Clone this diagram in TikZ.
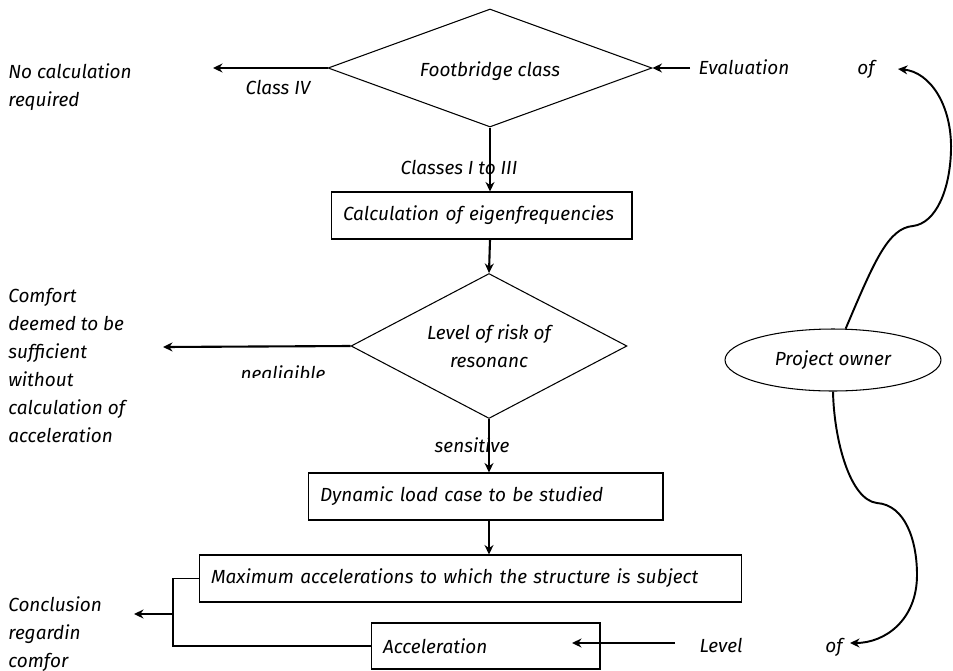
\documentclass[tikz,border=0pt]{standalone}
\usepackage{fontspec}
\setmainfont{Fira Sans}
\usetikzlibrary{arrows.meta, positioning, shapes.geometric}

\begin{document}
\begin{tikzpicture}[
    x=0.02cm, y=-0.02cm,
    every node/.style={font=\itshape\fontsize{10.8}{15.9}\selectfont},
    decision/.style={draw, diamond, inner sep=0pt, align=center, line width=0.6pt},
    box/.style={draw, rectangle, inner xsep=0.24cm, inner ysep=0pt, minimum height=0.94cm, align=left, line width=0.6pt},
    note/.style={align=left, inner sep=0pt, anchor=north west},
    arrow/.style={-{Stealth[length=1.9mm, width=1.8mm]}, line width=1.2pt},
    curvy/.style={-{Stealth[length=1.9mm, width=1.8mm]}, line width=1.1pt}
]
\useasboundingbox (0,0) rectangle (953,670);

% Main column
\node[decision, minimum width=6.48cm, minimum height=2.36cm, aspect=2.75, text height=4.4mm, text depth=0.9mm] (fclass) at (490,68) {Footbridge class};
\node[box, text width=5.54cm] (eigen) at (481.5,215.5) {Calculation of eigenfrequencies};
\node[decision, minimum width=5.52cm, minimum height=2.9cm, aspect=1.9] (risk) at (489,346) {Level of risk of\\resonanc};
\node[box, text width=6.62cm] (dyn) at (485.5,496.5) {Dynamic load case to be studied};
\node[box, text width=10.38cm] (maxacc) at (470.5,578.5) {Maximum accelerations to which the structure is subject};
\node[box, text width=4.1cm, minimum height=0.92cm] (accel) at (485.5,646) {Acceleration};

% Project owner
\node[draw, ellipse, minimum width=4.32cm, minimum height=1.24cm, inner sep=0pt, line width=0.6pt] (owner) at (833,360) {Project owner};

% Outcomes on the left
\node[note] (nocalc) at (8,63) {No calculation\\required};
\node[note] (comfort) at (8,288) {Comfort\\deemed to be\\sufficient\\without\\calculation of\\acceleration};
\node[note] (concl) at (8,596) {Conclusion\\regardin\\comfor};

% Inputs on the right
\node[anchor=base] (eval) at (744,74) {Evaluation};
\node[anchor=base] (evalof) at (866,74) {of};
\node[anchor=base] (level) at (721,652) {Level};
\node[anchor=base] (levelof) at (834,652) {of};

\coordinate (noend) at (213,68);
\coordinate (negend) at (163,347);
\coordinate (brk) at (173,614);
\coordinate (conend) at (134,614);
\coordinate (evalstart) at (690,68);
\coordinate (levelstart) at (675,643);
\coordinate (levelend) at (572,643);
\coordinate (evalofend) at (898,69);
\coordinate (levelofend) at (850,643);

% Flow
\draw[arrow] (fclass.west) -- (noend);
\node (lclass4) at (278,87) {Class IV};
\draw[arrow] (evalstart) -- (fclass.east);
\draw[arrow] (fclass.south) -- (fclass.south |- eigen.north);
\node (lclass13) at (459,167) {Classes I to III};
\draw[arrow] (eigen.south -| fclass.south) -- (risk.north);
\draw[arrow] (risk.west) -- (negend);
\begin{scope}
  \clip (200,350) rectangle (360,377);
  \node (lneg) at (283,375) {negligible};
\end{scope}
\draw[arrow] (risk.south) -- (risk.south |- dyn.north);
\node (lsens) at (472,445) {sensitive};
\draw[arrow] (dyn.south -| risk.south) -- (risk.south |- maxacc.north);

% Bracket to conclusion
\draw[line width=0.6pt] (maxacc.west) -- (maxacc.west -| brk) -- (accel.west -| brk) -- (accel.west);
\draw[arrow] (brk) -- (conend);
\draw[arrow] (levelstart) -- (levelend);

% Curly links from the owner
\draw[curvy] (owner.68) .. controls (874,262) and (888,228) .. (913,226)
  .. controls (936,223) and (950,190) .. (951,150)
  .. controls (952,105) and (930,72) .. (evalofend);
\draw[curvy] (owner.south) .. controls (834,440) and (850,500) .. (877,503)
  .. controls (905,505) and (917,540) .. (917,575)
  .. controls (917,620) and (885,643) .. (levelofend);

\end{tikzpicture}
\end{document}
